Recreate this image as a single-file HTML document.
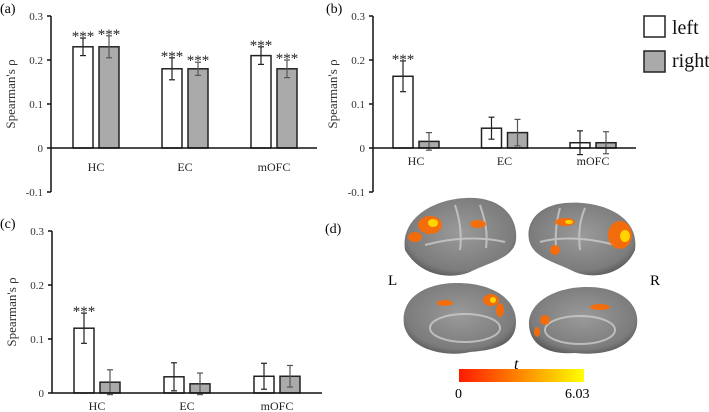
<!DOCTYPE html>
<html><head><meta charset="utf-8"><style>
html,body{margin:0;padding:0;background:#fff;width:709px;height:412px;overflow:hidden}
svg{display:block;font-family:"Liberation Serif",serif}
</style></head><body>
<svg id="fig" width="709" height="412" viewBox="0 0 709 412">
<defs>
<linearGradient id="cb" x1="0" x2="1"><stop offset="0" stop-color="#ff1a00"/><stop offset="0.5" stop-color="#ff8a00"/><stop offset="1" stop-color="#ffff00"/></linearGradient>
<radialGradient id="brain" cx="0.5" cy="0.45" r="0.6"><stop offset="0" stop-color="#9a9a9a"/><stop offset="0.8" stop-color="#7c7c7c"/><stop offset="1" stop-color="#555"/></radialGradient>
</defs>
<g id="panels"></g>
<g>
<rect x="644" y="16" width="21" height="21" fill="#fff" stroke="#222" stroke-width="1.5"/>
<text x="672" y="34" font-size="20" fill="#111">left</text>
<rect x="644" y="51" width="21" height="21" fill="#aaa" stroke="#222" stroke-width="1.5"/>
<text x="672" y="67" font-size="20" fill="#111">right</text>
</g>
<g>
<text x="325" y="233" font-size="14">(d)</text>
<path d="M405,250 C400,215 440,196 475,198 C505,200 518,220 516,240 C514,258 490,262 470,272 C450,280 420,276 405,250Z" fill="url(#brain)"/>
<path d="M635,250 C640,215 600,200 565,203 C535,206 526,225 529,240 C533,258 555,262 575,272 C595,280 625,274 635,250Z" fill="url(#brain)"/>
<path d="M404,325 C400,295 430,282 460,283 C495,284 516,300 516,322 C516,345 495,350 470,352 C450,357 410,352 404,325Z" fill="url(#brain)"/>
<path d="M637,325 C640,300 615,286 585,287 C550,288 528,305 529,325 C530,345 548,355 575,353 C600,356 633,350 637,325Z" fill="url(#brain)"/>
<g fill="none" stroke="#ccc" stroke-width="2" opacity="0.8">
<path d="M425,245 C450,238 480,236 505,242"/><path d="M455,205 C460,220 462,235 460,250"/><path d="M480,205 C485,220 488,232 486,248"/>
<path d="M615,245 C590,238 560,236 540,242"/><path d="M585,208 C580,220 578,232 580,250"/><path d="M560,208 C556,222 555,235 556,250"/>
<ellipse cx="465" cy="328" rx="35" ry="14"/><ellipse cx="580" cy="330" rx="35" ry="14"/>
</g>
<g fill="#ff6a00" opacity="0.9">
<ellipse cx="430" cy="225" rx="12" ry="9"/><ellipse cx="415" cy="237" rx="7" ry="5"/><ellipse cx="478" cy="224" rx="8" ry="4"/>
<ellipse cx="620" cy="235" rx="12" ry="14"/><ellipse cx="565" cy="222" rx="10" ry="4"/><ellipse cx="555" cy="250" rx="5" ry="5"/>
<ellipse cx="491" cy="300" rx="8" ry="6"/><ellipse cx="500" cy="310" rx="4" ry="7"/><ellipse cx="445" cy="303" rx="8" ry="3"/>
<ellipse cx="600" cy="307" rx="10" ry="3"/><ellipse cx="545" cy="320" rx="5" ry="5"/><ellipse cx="537" cy="332" rx="3" ry="5"/>
</g>
<g fill="#ffd400">
<ellipse cx="433" cy="223" rx="5" ry="4"/><ellipse cx="625" cy="236" rx="5" ry="6"/><ellipse cx="569" cy="222" rx="4" ry="2"/><ellipse cx="493" cy="300" rx="3" ry="3"/>
</g>
<text x="388" y="285" font-size="15">L</text>
<text x="650" y="285" font-size="15">R</text>
<text x="514" y="369" font-size="16" font-style="italic">t</text>
<rect x="459" y="369" width="125" height="13" fill="url(#cb)"/>
<text x="455" y="398" font-size="14">0</text>
<text x="565" y="398" font-size="14">6.03</text>
</g>
</svg>
<script>
const categories = ["HC","EC","mOFC"];
const aLeft = [0.23,0.18,0.21], aLeftErr = [0.02,0.025,0.02];
const aRight = [0.23,0.18,0.18], aRightErr = [0.025,0.015,0.02];
const bLeft = [0.163,0.045,0.012], bLeftErr = [0.035,0.025,0.027];
const bRight = [0.015,0.035,0.012], bRightErr = [0.02,0.03,0.025];
const cLeft = [0.12,0.03,0.031], cLeftErr = [0.028,0.026,0.024];
const cRight = [0.02,0.017,0.031], cRightErr = [0.023,0.02,0.02];
const aSig = [[true,true],[true,true],[true,true]];
const bSig = [[true,false],[false,false],[false,false]];
const cSig = [[true,false],[false,false],[false,false]];
const ticksABC = [0.3,0.2,0.1,0,-0.1];
const ticksC = [0.3,0.2,0.1,0];
const tickLabels = {"0.3":"0.3","0.2":"0.2","0.1":"0.1","0":"0","-0.1":"-0.1"};
const NS='http://www.w3.org/2000/svg';
const root=document.getElementById('panels');
function mk(t,a,p){const e=document.createElementNS(NS,t);for(const k in a)e.setAttribute(k,a[k]);(p||root).appendChild(e);return e;}
function panel(o){
  const g=mk('g',{});
  
  
  const y=v=>o.y0-(v/0.1)*o.unit;
  const lab=mk('text',{x:o.labX,y:o.labY,'font-size':14},g);lab.textContent='('+o.id+')';
  
  
  const ymin=o.ticks[o.ticks.length-1];
  const ax=mk('line',{x1:o.ax,x2:o.ax,y1:y(0.3),y2:y(ymin),stroke:'#111','stroke-width':1.5},g);
  
  
  o.ticks.forEach(t=>{
    mk('line',{x1:o.ax-4,x2:o.ax,y1:y(t),y2:y(t),stroke:'#111','stroke-width':1.5},g);
    const tx=mk('text',{x:o.ax-8,y:y(t)+4,'font-size':11,'text-anchor':'end',fill:'#333'},g);
    tx.textContent=tickLabels[String(t)];
    
    
  });
  const yt=mk('text',{transform:`translate(${o.ax-36},${(y(0.3)+y(ymin))/2+ (ymin<0?-10:0)}) rotate(-90)`,'font-size':13,'text-anchor':'middle',fill:'#333'},g);
  yt.textContent="Spearman's ρ";
  
  
  categories.forEach((c,i)=>{
    const x0=o.first+i*o.step;
    const series=[[o.L,o.LE,'#fff','left'],[o.R,o.RE,'#aaa','right']];
    series.forEach((s,j)=>{
      const bx=x0+j*26,v=s[0][i],e=s[1][i];
      const r=mk('rect',{x:bx,y:y(v),width:20,height:y(0)-y(v),fill:s[2],stroke:'#222','stroke-width':1.5},g);
      
      
      const cx=bx+10,col=j?'#555':'#222';
      mk('line',{x1:cx,x2:cx,y1:y(v+e),y2:y(v-e),stroke:col,'stroke-width':1.2},g);
      mk('line',{x1:cx-3,x2:cx+3,y1:y(v+e),y2:y(v+e),stroke:col,'stroke-width':1.2},g);
      mk('line',{x1:cx-3,x2:cx+3,y1:y(v-e),y2:y(v-e),stroke:col,'stroke-width':1.2},g);
      if(o.sig[i][j]){const st=mk('text',{x:cx,y:y(v+e)+3,'font-size':15,'text-anchor':'middle',fill:'#222'},g);st.textContent='***';
        
        }
    });
    const cl=mk('text',{x:x0+23,y:o.catY,'font-size':12,'text-anchor':'middle',fill:'#222'},g);cl.textContent=c;
    
    
  });
  const bl=mk('line',{x1:o.ax,x2:o.end,y1:y(0),y2:y(0),stroke:'#111','stroke-width':1.5},g);
  
  
}
panel({id:'a',labX:0,labY:13,ax:51,y0:148,unit:44,first:73,step:89,end:317,catY:171,ticks:ticksABC,L:aLeft,LE:aLeftErr,R:aRight,RE:aRightErr,sig:aSig});
panel({id:'b',labX:326,labY:13,ax:373,y0:148,unit:44,first:393,step:88.5,end:636,catY:165,ticks:ticksABC,L:bLeft,LE:bLeftErr,R:bRight,RE:bRightErr,sig:bSig});
panel({id:'c',labX:0,labY:228,ax:52,y0:393,unit:54,first:74,step:90,end:322,catY:410,ticks:ticksC,L:cLeft,LE:cLeftErr,R:cRight,RE:cRightErr,sig:cSig});
</script>
</body></html>
